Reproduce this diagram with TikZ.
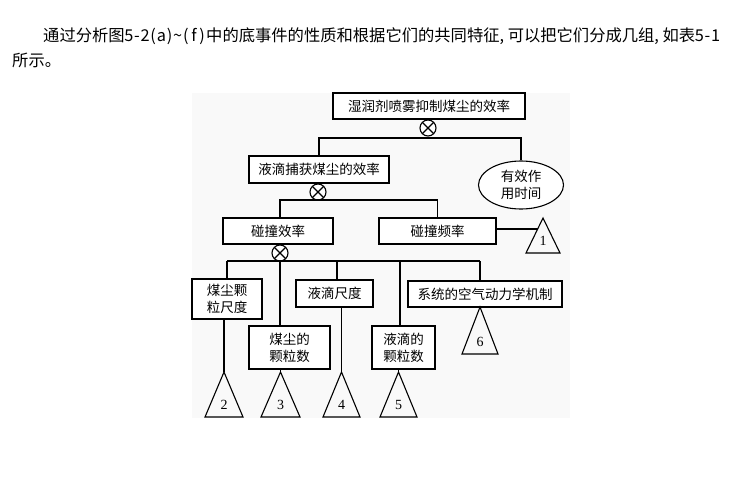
\documentclass[tikz,border=0pt]{standalone}
\usepackage{fontspec}
\setmainfont{Noto Sans CJK SC}
\newfontfamily\numfont{Liberation Serif}
\usetikzlibrary{calc,shapes.geometric}
\definecolor{panel}{RGB}{249,249,249}
\newcommand\hc[1]{\makebox[0.5em][c]{#1}}
\newcommand\hcl[1]{\makebox[0.5em][l]{#1}}
\tikzset{
  box/.style={draw, line width=1.1pt, fill=white, inner sep=0pt, align=center, font=\fontsize{13.5}{16}\selectfont},
  gate/.style={draw, circle, line width=1.1pt, fill=white, minimum size=16pt, inner sep=0pt,
    path picture={\draw[line width=1.1pt] (path picture bounding box.north west) -- (path picture bounding box.south east)
      (path picture bounding box.north east) -- (path picture bounding box.south west);}},
  wire/.style={line width=1.1pt},
  trinum/.style={font=\numfont\fontsize{14}{14}\selectfont, inner sep=0pt},
}
\newcommand\ftri[6]{%
  \coordinate (#1a) at (#2,#3);
  \coordinate (#1l) at ({#2-#5},#4);
  \coordinate (#1r) at ({#2+#5},#4);
  \draw[wire, line join=miter] (#1a) -- (#1l) -- (#1r) -- cycle;
  \node[trinum] (#1n) at (#2,{#4-12}) {#6};
}
\begin{document}
\begin{tikzpicture}[x=1pt,y=-1pt]
\fill[white] (0,0) rectangle (730,477);
\useasboundingbox (0,0) rectangle (730,477);
% text
\node[anchor=base west, inner sep=0pt, font=\fontsize{16.3}{16.3}\selectfont] (p1) at (43,41) {通过分析图\hc{5}\hc{-}\hc{2}\hc{(}\hc{a}\hc{)}\hc{\textasciitilde}\hc{(}\hc{f}\hc{)}中的底事件的性质和根据它们的共同特征\hcl{,}可以把它们分成几组\hcl{,}如表\hc{5}\hc{-}\hc{1}};
\node[anchor=base west, inner sep=0pt, font=\fontsize{16.3}{16.3}\selectfont] (p2) at (12,66) {所示。};
% panel
\fill[panel] (192,93) rectangle (570,418);
% nodes
\node[box, minimum width=192pt, minimum height=26pt] (top) at (429,106) {湿润剂喷雾抑制煤尘的效率};
\node[gate] (g1) at (428,128) {};
\node[box, minimum width=140pt, minimum height=27pt] (b2) at (319,169.5) {液滴捕获煤尘的效率};
\node[box, ellipse, minimum width=85pt, minimum height=48pt, align=center, font=\fontsize{13.5}{17}\selectfont] (ell) at (521,185) {有效作\\用时间};
\node[gate] (g2) at (318,192) {};
\node[box, minimum width=110pt, minimum height=26pt] (b3) at (278,231) {碰撞效率};
\node[box, minimum width=117pt, minimum height=26pt] (b4) at (437.5,231) {碰撞频率};
\node[gate] (g3) at (280,253) {};
\node[box, minimum width=70pt, minimum height=40pt, font=\fontsize{13.5}{17}\selectfont] (b5) at (227,299) {煤尘颗\\粒尺度};
\node[box, minimum width=77pt, minimum height=27pt] (b6) at (334.5,293.5) {液滴尺度};
\node[box, minimum width=154pt, minimum height=26pt] (b7) at (485,294) {系统的空气动力学机制};
\node[box, minimum width=81pt, minimum height=43pt, font=\fontsize{13.5}{17}\selectfont] (b8) at (289.5,347.5) {煤尘的\\颗粒数};
\node[box, minimum width=63pt, minimum height=43pt, font=\fontsize{13.5}{17}\selectfont] (b9) at (403.5,347.5) {液滴的\\颗粒数};
% triangles
\ftri{t1}{543}{218}{253}{17}{1}
\ftri{t6}{480}{307}{354}{18}{6}
\ftri{t2}{224}{372}{417}{19}{2}
\ftri{t3}{280.5}{372}{417}{19.5}{3}
\ftri{t4}{341.5}{372}{417}{18.5}{4}
\ftri{t5}{398.5}{372}{417}{18.5}{5}
% level 1
\coordinate (bar1) at (428,138);
\draw[wire] (top.south -| g1) -- (g1.north);
\draw[wire] (g1.south) -- (bar1);
\draw[wire] (b2.north) |- (bar1) -| (ell.north);
% level 2
\coordinate (bar2) at (318,200);
\draw[wire] (b2.south -| g2) -- (g2.north);
\draw[wire] (g2.south) -- (bar2);
\draw[wire] (b3.north -| g3) |- (bar2) -| (b4.north);
\coordinate (t1e) at ($(t1a)!0.3143!(t1l)$);
\draw[wire] (b4.east |- t1e) -- (t1e);
% level 3
\coordinate (bar3) at (280,261);
\draw[wire] (b3.south -| g3) -- (g3.north);
\draw[wire] (227,261) -- (480,261);
\draw[wire] (b5.north) -- (b5.north |- bar3);
\draw[wire] (g3.south) -- (b8.north -| g3);
\draw[wire] (337,261) -- (b6.north -| 337,0);
\draw[wire] (400,261) -- (b9.north -| 400,0);
\draw[wire] (480,261) -- (b7.north -| 480,0);
% to triangles
\draw[wire] (b5.south -| t2a) -- (t2a);
\draw[wire] (b8.south -| t3a) -- (t3a);
\draw[wire] (b6.south -| t4a) -- (t4a);
\draw[wire] (b9.south -| t5a) -- (t5a);
\draw[wire] (b7.south -| t6a) -- (t6a);
\end{tikzpicture}
\end{document}
